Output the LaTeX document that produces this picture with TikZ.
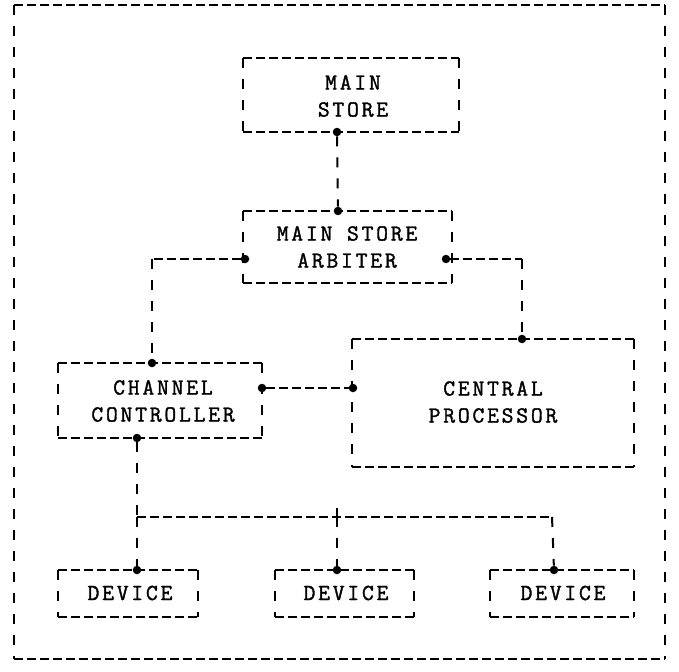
\documentclass[tikz,border=0pt]{standalone}
\usepackage{fontspec}
\newfontfamily\tw{Latin Modern Mono}[LetterSpace=12, FakeBold=1.5]
\begin{document}
\begin{tikzpicture}[x=1pt,y=-1pt,
  hd/.style={line width=1.8pt, dash pattern=on 9pt off 4pt},
  vd/.style={line width=2pt, dash pattern=on 10pt off 11pt},
  lbl/.style={font=\tw\fontsize{23}{27}\selectfont, align=center, inner sep=0pt},
  dot/.style={circle, fill, inner sep=0pt, minimum size=8.5pt}]
\useasboundingbox (0,0) rectangle (679,671);
\newcommand\myDBox[4]{%
  \draw[hd] (#1,#2) -- (#3,#2);
  \draw[hd] (#1,#4) -- (#3,#4);
  \draw[vd] (#1,#2) -- (#1,#4);
  \draw[vd] (#3,#2) -- (#3,#4);}
% outer frame
\myDBox{14}{5}{665}{659}
% boxes
\myDBox{243}{58}{459}{132}
\node[lbl] (msT) at (353,96) {MAIN\\ STORE};
\myDBox{243}{211}{452}{283}
\node[lbl] (arbT) at (347,247) {MAIN STORE\\ARBITER};
\myDBox{58}{363}{262}{438}
\node[lbl] (ccT) at (163,401) {CHANNEL\\CONTROLLER};
\myDBox{352}{339}{634}{467}
\node[lbl] (cpT) at (493,402) {CENTRAL\\PROCESSOR};
\myDBox{58}{570}{198}{617}
\node[lbl] (d1T) at (130,593) {DEVICE};
\myDBox{275}{570}{414}{617}
\node[lbl] (d2T) at (346,593) {DEVICE};
\myDBox{490}{570}{634}{617}
\node[lbl] (d3T) at (563,593) {DEVICE};
% dots
\node[dot] (msB) at (337,132) {};
\node[dot] (arT) at (338,211) {};
\node[dot] (arL) at (245,259) {};
\node[dot] (arR) at (446,259) {};
\node[dot] (ccTop) at (152,363) {};
\node[dot] (ccR) at (262,388) {};
\node[dot] (ccB) at (137,438) {};
\node[dot] (cpTop) at (522,339) {};
\node[dot] (cpL) at (353,388) {};
\node[dot] (d1) at (137,570) {};
\node[dot] (d2) at (337,570) {};
\node[dot] (d3) at (554,570) {};
% bends and bus
\coordinate (kL) at (152,259);
\coordinate (kR) at (522,259);
\coordinate (b1) at (137,517);
\coordinate (b2) at (337,517);
\coordinate (b3) at (552,517);
\coordinate (t2) at (337,508);
% connectors
\draw[vd] (msB) -- (arT);
\draw[hd] (arL) -- (kL);
\draw[vd] (kL) -- (ccTop);
\draw[hd] (arR) -- (kR);
\draw[vd] (kR) -- (cpTop);
\draw[hd] (ccR) -- (cpL);
\draw[vd] (ccB) -- (b1);
\draw[hd] (b1) -- (b3);
\draw[line width=1.5pt] (t2) -- (b2);
\draw[vd] (b1) -- (d1);
\draw[vd] (b2) -- (d2);
\draw[vd] (b3) -- (d3);
\end{tikzpicture}
\end{document}
